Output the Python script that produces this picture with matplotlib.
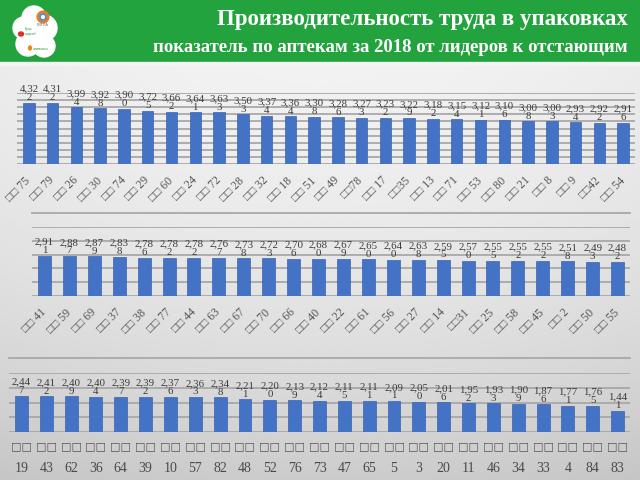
import numpy as np
import matplotlib
matplotlib.use("Agg")
import matplotlib.pyplot as plt
from matplotlib.patches import Rectangle, Circle, Ellipse
import matplotlib.transforms as mtransforms

# data: productivity per pharmacy, leaders -> laggards, three rows
cats1 = ['75', '79', '26', '30', '74', '29', '60', '24', '72', '28', '32', '18', '51',
         '49', '78', '17', '35', '13', '71', '53', '80', '21', '8', '9', '42', '54']
vals1 = [4.322, 4.312, 3.994, 3.928, 3.900, 3.725, 3.662, 3.641, 3.633, 3.503, 3.374,
         3.364, 3.308, 3.286, 3.273, 3.232, 3.229, 3.182, 3.154, 3.121, 3.106, 3.008,
         3.003, 2.934, 2.922, 2.916]
nospace1 = ['78', '35', '42']

cats2 = ['41', '59', '69', '37', '38', '77', '44', '63', '67', '70', '66', '40', '22',
         '61', '56', '27', '14', '31', '25', '58', '45', '2', '50', '55']
vals2 = [2.911, 2.887, 2.879, 2.838, 2.786, 2.782, 2.782, 2.767, 2.738, 2.723, 2.706,
         2.680, 2.679, 2.650, 2.640, 2.638, 2.595, 2.570, 2.555, 2.552, 2.552, 2.518,
         2.493, 2.482]
nospace2 = ['31']

cats3 = ['19', '43', '62', '36', '64', '39', '10', '57', '82', '48', '52', '76', '73',
         '47', '65', '5', '3', '20', '11', '46', '34', '33', '4', '84', '83']
vals3 = [2.447, 2.412, 2.409, 2.404, 2.397, 2.392, 2.376, 2.363, 2.348, 2.211, 2.200,
         2.139, 2.124, 2.115, 2.111, 2.091, 2.050, 2.016, 1.952, 1.933, 1.909, 1.876,
         1.771, 1.765, 1.441]

title = 'Производительность труда в упаковках'
subtitle = 'показатель по аптекам за 2018 от лидеров к отстающим'

BOX = '\u25a1\u25a1'
bar_color = '#4472C4'
grid_color = '#a8a8a8'
lbl_color = '#3a3a3a'
serif = ['Liberation Serif', 'DejaVu Serif']
W, H = 640, 480


def fx(px):
    return px / W


def fy(py):
    return 1 - py / H


fig = plt.figure(figsize=(6.4, 4.8), dpi=100)

# background gradient
bg = fig.add_axes([0, 0, 1, 1], zorder=-10)
yy, xx = np.mgrid[0:1:200j, 0:1:200j]
shade = 0.95 - 0.15 * yy ** 2 - 0.10 * (xx - 0.5) ** 2
bg.imshow(shade, cmap='gray', vmin=0, vmax=1, aspect='auto', extent=[0, 1, 0, 1])
bg.set_axis_off()

# green header
fig.patches.append(Rectangle((0, fy(62)), 1, 62 / H, transform=fig.transFigure,
                             color='#22a33d', zorder=-5))
fig.patches.append(Rectangle((0, fy(64.5)), 1, 2.5 / H, transform=fig.transFigure,
                             color='#f4f4f4', zorder=-5))
fig.text(fx(628), fy(19), title, ha='right', va='center', color='white',
         fontsize=16.5, fontweight='bold', family=serif)
fig.text(fx(628), fy(47), subtitle, ha='right', va='center', color='white',
         fontsize=13.5, fontweight='bold', family=serif)

# logo: white cloud with little marks
logo = fig.add_axes([fx(8), fy(60), fx(56), 56 / H])
logo.set_xlim(0, 56)
logo.set_ylim(56, 0)
logo.set_axis_off()
for cx, cy, r in [(26, 14, 12), (16, 24, 11), (36, 24, 13), (20, 40, 12), (36, 42, 11), (28, 30, 14)]:
    logo.add_patch(Circle((cx, cy), r, color='white'))
logo.add_patch(Circle((35, 13), 5, fill=False, lw=2.2, ec='#e8792b'))
logo.add_patch(Circle((35, 13), 3, fill=False, lw=1.2, ec='#3f8fd2'))
logo.text(35, 22, 'РИГЛА', fontsize=2.5, color='#6a6a6a', ha='center')
logo.add_patch(Ellipse((13, 30), 5, 4, color='#d9302c'))
logo.text(17, 31, 'Будь\nздоров!', fontsize=2.2, color='#2f9a3c')
logo.add_patch(Ellipse((22, 44), 3, 4, color='#e88a1a'))
logo.text(25, 46, 'живика', fontsize=2.8, color='#2f9a3c')


def fmt(v):
    s = '{:.3f}'.format(v).replace('.', ',')
    return s[:-1] + '\n' + s[-1]


def bar_row(rect, cats, vals, ymax, step, width):
    ax = fig.add_axes(rect)
    x = np.arange(len(cats))
    ax.bar(x, vals, width=width, color=bar_color, edgecolor='#3a64b0', linewidth=0.5, zorder=3)
    ax.set_xlim(-0.5, len(cats) - 0.5)
    ax.set_ylim(0, ymax)
    ax.set_yticks(np.arange(0, ymax + step / 2, step))
    ax.yaxis.grid(True, color=grid_color, lw=1.3, zorder=0)
    ax.set_yticklabels([])
    ax.tick_params(length=0)
    ax.set_facecolor('none')
    for s in ax.spines.values():
        s.set_visible(False)
    for i, v in enumerate(vals):
        ax.annotate(fmt(v), (i, v), xytext=(0, 0.5), textcoords='offset points',
                    ha='center', va='bottom', fontsize=7.8, color=lbl_color,
                    family=serif, linespacing=0.95, zorder=5, annotation_clip=False)
    return ax, x


def rotated_labels(ax, x, cats, nospace):
    ax.set_xticks(x)
    labels = [BOX + c if c in nospace else BOX + ' ' + c for c in cats]
    ax.set_xticklabels(labels, rotation=45, ha='right', va='center',
                       rotation_mode='anchor', fontsize=8.5, color='#555555',
                       family=serif)
    offset = mtransforms.ScaledTranslation(0.0, -0.1, fig.dpi_scale_trans)
    for t in ax.get_xticklabels():
        t.set_transform(t.get_transform() + offset)


# row 1
ax1, x1 = bar_row([fx(17), fy(164), fx(618), 71 / H], cats1, vals1, 5, 0.5, 0.48)
rotated_labels(ax1, x1, cats1, nospace1)

# row 2
ax2, x2 = bar_row([fx(32), fy(296), fx(598), 69 / H], cats2, vals2, 5, 1, 0.52)
rotated_labels(ax2, x2, cats2, nospace2)
fig.add_artist(plt.Line2D([fx(32), fx(630)], [fy(213), fy(213)], color=grid_color, lw=1.3))

# row 3
ax3, x3 = bar_row([fx(9), fy(432), fx(621), 59 / H], cats3, vals3, 4, 1, 0.52)
ax3.set_xticks(x3)
ax3.set_xticklabels([])
tr = ax3.get_xaxis_transform()
for i, c in enumerate(cats3):
    ax3.text(i, -0.25, BOX, transform=tr, ha='center', va='center', fontsize=8,
             color='#555555', family=['DejaVu Sans'])
    ax3.text(i, -0.62, c, transform=tr, ha='center', va='center', fontsize=10,
             color='#4a4a4a', family=serif)
fig.add_artist(plt.Line2D([fx(9), fx(630)], [fy(358), fy(358)], color=grid_color, lw=1.3))

fig.savefig('out.png', dpi=100)
